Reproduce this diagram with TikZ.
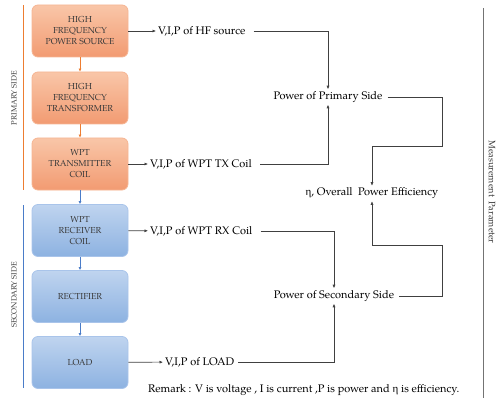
\documentclass[tikz,border=0pt]{standalone}
\usepackage{fontspec}
\setmainfont{TeX Gyre Pagella}
\newfontfamily\grk{Liberation Serif}
\usetikzlibrary{arrows.meta,shadings}
\definecolor{orTop}{HTML}{F9C6A8}
\definecolor{orBot}{HTML}{F29B72}
\definecolor{orEdge}{HTML}{F6B593}
\definecolor{orLine}{HTML}{ED7D31}
\definecolor{blTop}{HTML}{BFD4EF}
\definecolor{blBot}{HTML}{8DB2E1}
\definecolor{blEdge}{HTML}{A9C4EA}
\definecolor{blLine}{HTML}{4A7CC8}
\definecolor{txt}{HTML}{3A3A3A}
\tikzset{
  blk/.style={rounded corners=6pt, minimum width=96pt, minimum height=52pt, align=center,
    font=\fontsize{8.7}{11}\selectfont, text=txt, line width=0.8pt},
  obox/.style={blk, draw=orEdge, top color=orTop, bottom color=orBot},
  bbox/.style={blk, draw=blEdge, top color=blTop, bottom color=blBot},
  lab/.style={font=\fontsize{11}{12}\selectfont, text=black, inner sep=2pt},
  conn/.style={draw=black!75, line width=0.6pt, -{Latex[length=3.5pt,width=3pt]}},
  oarr/.style={draw=orLine, line width=0.7pt, -{Latex[length=3pt,width=3pt]}},
  barr/.style={draw=blLine, line width=0.7pt, -{Latex[length=3pt,width=3pt]}},
  side/.style={font=\fontsize{7.6}{9}\selectfont, text=txt},
}
\begin{document}
\begin{tikzpicture}[x=1pt,y=-1pt]
\useasboundingbox (0,0) rectangle (498,401);
\node[obox] (b1) at (80,31) {HIGH\\FREQUENCY\\POWER SOURCE};
\node[obox] (b2) at (80,98) {HIGH\\FREQUENCY\\TRANSFORMER};
\node[obox] (b3) at (80,164) {WPT\\TRANSMITTER\\COIL};
\node[bbox] (b4) at (80,230.5) {WPT\\RECEIVER\\COIL};
\node[bbox] (b5) at (80,296.5) {RECTIFIER};
\node[bbox] (b6) at (80,362.5) {LOAD};
\draw[oarr] (b1) -- (b2);
\draw[oarr] (b2) -- (b3);
\draw[barr] (b3) -- (b4);
\draw[barr] (b4) -- (b5);
\draw[barr] (b5) -- (b6);
% side bars
\coordinate (p1) at (23,5); \coordinate (p2) at (23,190);
\coordinate (s1) at (23,205); \coordinate (s2) at (23,388);
\draw[orLine, line width=0.8pt] (p1) -- (p2);
\draw[blLine, line width=0.8pt] (s1) -- (s2);
\node[side, rotate=90] (pl) at (14,98) {PRIMARY SIDE};
\node[side, rotate=90] (sl) at (14,295) {SECONDARY SIDE};
% measurement texts
\node[lab, anchor=west] (t1) at (156,31) {V,I,P of HF source};
\node[lab, anchor=west] (t3) at (148,164) {V,I,P of WPT TX Coil};
\node[lab, anchor=west] (t4) at (148,231) {V,I,P of WPT RX Coil};
\node[lab, anchor=west] (t6) at (163,362) {V,I,P of LOAD};
\node[lab] (pp) at (328,97) {Power of Primary Side};
\node[lab] (ps) at (334,296) {Power of Secondary Side};
\node[lab] (eta) at (372,193.5) {{\grk η}, Overall\ \ Power Efficiency};
\draw[conn] (b1) -- (t1);
\draw[conn] (b3) -- (t3);
\draw[conn] (b4) -- (t4);
\draw[conn] (b6) -- (t6);
\draw[conn] (t1.east) ++(6,0) -| (pp.north);
\draw[conn] (t3.east) ++(6,0) -| (pp.south);
\draw[conn] (t4.east) ++(6,0) -| (ps.north);
\draw[conn] (t6.east) ++(2,0) -| (ps.south);
\draw[conn] (pp.east) ++(3,0) -| (442,146) -| (eta.north);
\draw[conn] (ps.east) ++(3,0) -| (442,245) -| (eta.south);
% measurement parameter
\coordinate (m1) at (483,8); \coordinate (m2) at (483,398);
\draw[black!55, line width=0.8pt] (m1) -- (m2);
\node[font=\fontsize{9.3}{10}\selectfont, text=txt, rotate=-90] (mp) at (492,192) {Measurement\ \ Parameter};
\node[lab, anchor=west] (rm) at (146,390) {Remark : V is voltage , I is current ,P is power and {\grk η} is efficiency.};
\end{tikzpicture}
\end{document}
